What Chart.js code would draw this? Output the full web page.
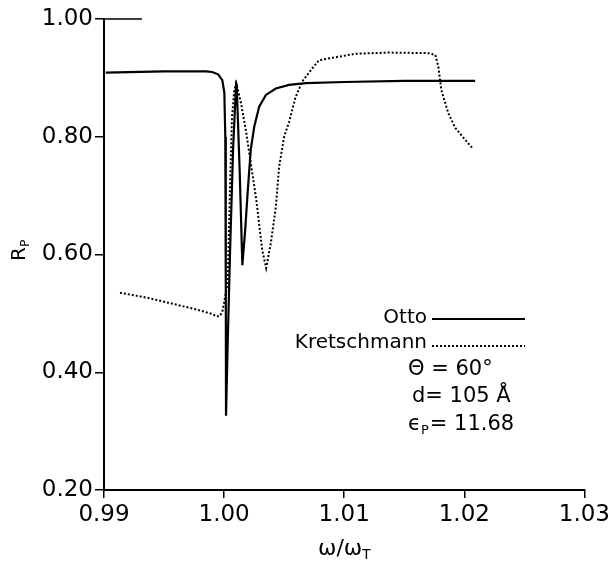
<!DOCTYPE html>
<html>
<head>
<meta charset="utf-8">
<script src="https://cdn.jsdelivr.net/npm/chart.js@4/dist/chart.umd.min.js"></script>
<style>
  html, body { margin: 0; padding: 0; background: #fff; }
  #wrap { width: 613px; height: 565px; }
</style>
</head>
<body>
<div id="wrap"><canvas id="reflChart" width="613" height="565"></canvas></div>
<script>
// omega / omega_T values and reflectivity R_p
var ottoX = [0.99015, 0.9950, 0.9985, 0.9990, 0.9995, 0.99985, 1.00002, 1.00010, 1.00014, 1.00016,
             1.00030, 1.00050, 1.00075, 1.00100, 1.00105, 1.00130, 1.00152, 1.00175, 1.00196, 1.00222,
             1.00251, 1.00292, 1.00348, 1.00431, 1.00541, 1.00680, 1.0100, 1.0150, 1.0209];
var ottoR = [0.909, 0.911, 0.911, 0.910, 0.906, 0.896, 0.875, 0.800, 0.550, 0.326,
             0.450, 0.608, 0.780, 0.890, 0.888, 0.740, 0.582, 0.640, 0.705, 0.778,
             0.817, 0.851, 0.871, 0.882, 0.888, 0.891, 0.893, 0.895, 0.895];

var kretX = [0.99133, 0.9935, 0.9960, 0.9980, 0.9990, 0.99934, 0.99960, 0.99975, 0.99988, 1.00030,
             1.00050, 1.00066, 1.00085, 1.00102, 1.00141, 1.00185, 1.00268, 1.00317, 1.00350, 1.00389,
             1.00431, 1.00458, 1.00500, 1.00541, 1.00596, 1.00651, 1.00734, 1.00790, 1.00955, 1.01096,
             1.01370, 1.01701, 1.01759, 1.01784, 1.01809, 1.01867, 1.01925, 1.02007, 1.02074];
var kretR = [0.535, 0.527, 0.515, 0.505, 0.499, 0.495, 0.495, 0.499, 0.505, 0.552,
             0.720, 0.834, 0.879, 0.891, 0.857, 0.806, 0.693, 0.608, 0.577, 0.619,
             0.681, 0.749, 0.800, 0.825, 0.868, 0.894, 0.916, 0.930, 0.936, 0.941,
             0.943, 0.942, 0.939, 0.919, 0.879, 0.840, 0.815, 0.795, 0.779];

var xTicks = [0.99, 1.00, 1.01, 1.02, 1.03];
var yTicks = [0.20, 0.40, 0.60, 0.80, 1.00];

var seriesNames = ['Otto', 'Kretschmann'];

function pairs(xs, ys) {
  return xs.map(function(x, i) { return { x: x, y: ys[i] }; });
}

var FONT = '"DejaVu Sans", "Liberation Sans", sans-serif';

// draws text made of pieces, some of them as subscripts
function drawPieces(ctx, x, y, pieces, size) {
  pieces.forEach(function(p) {
    var s = p.sub ? size * 0.62 : size;
    ctx.font = s + 'px ' + FONT;
    ctx.fillText(p.t, x, p.sub ? y + size * 0.28 : y);
    x += ctx.measureText(p.t).width + (p.sub ? 1 : 0);
  });
}

var paperPlugin = {
  id: 'paper',
  afterDraw: function(chart) {
    var ctx = chart.ctx, area = chart.chartArea;
    ctx.save();
    ctx.fillStyle = '#000';
    ctx.strokeStyle = '#000';

    // short piece of frame along the top
    ctx.lineWidth = 1.5;
    ctx.beginPath();
    ctx.moveTo(area.left - 1, area.top);
    ctx.lineTo(area.left + 38, area.top);
    ctx.stroke();

    // legend: label, then a sample of the line
    ctx.textBaseline = 'middle';
    chart.data.datasets.forEach(function(ds, i) {
      var y = 319 + i * 25;
      ctx.font = '20px ' + FONT;
      ctx.textAlign = 'right';
      ctx.fillText(ds.label, 427, y - 1);
      ctx.lineWidth = ds.borderWidth;
      ctx.setLineDash(ds.borderDash || []);
      ctx.beginPath();
      ctx.moveTo(432, y + (i ? 2 : 0));
      ctx.lineTo(525, y + (i ? 2 : 0));
      ctx.stroke();
      ctx.setLineDash([]);
    });

    // parameters
    ctx.textAlign = 'left';
    drawPieces(ctx, 408, 370, [{ t: 'Θ = 60°' }], 21);
    drawPieces(ctx, 412, 397, [{ t: 'd= 105 Å' }], 21);
    drawPieces(ctx, 408, 425, [{ t: 'ϵ' }, { t: 'P', sub: true }, { t: '= 11.68' }], 21);

    // x title
    drawPieces(ctx, 318, 549, [{ t: 'ω/ω' }, { t: 'T', sub: true }], 22);

    // y title, rotated
    ctx.translate(20, 250);
    ctx.rotate(-Math.PI / 2);
    drawPieces(ctx, -11, 0, [{ t: 'R' }, { t: 'P', sub: true }], 20);

    ctx.restore();
  }
};

var ctx = document.getElementById('reflChart').getContext('2d');
var reflChart = new Chart(ctx, {
  type: 'line',
  data: {
    datasets: [{
      label: seriesNames[0],
      data: pairs(ottoX, ottoR),
      borderColor: '#000',
      borderWidth: 2.2,
      pointRadius: 0,
      tension: 0
    }, {
      label: seriesNames[1],
      data: pairs(kretX, kretR),
      borderColor: '#000',
      borderWidth: 2,
      borderDash: [2, 2],
      pointRadius: 0,
      tension: 0
    }]
  },
  options: {
    responsive: false,
    animation: false,
    devicePixelRatio: 1,
    layout: { padding: { top: 19, right: 26, left: 0, bottom: 0 } },
    plugins: {
      legend: { display: false },
      tooltip: { enabled: false }
    },
    scales: {
      x: {
        type: 'linear',
        min: 0.99,
        max: 1.03,
        afterBuildTicks: function(scale) {
          scale.ticks = xTicks.map(function(v) { return { value: v }; });
        },
        afterFit: function(scale) { scale.height = 75; },
        ticks: {
          autoSkip: false,
          maxRotation: 0,
          padding: 3,
          color: '#000',
          font: { family: FONT, size: 23 },
          callback: function(v) { return v.toFixed(2); }
        },
        grid: { drawOnChartArea: false, drawTicks: true, tickLength: 8, color: '#000', lineWidth: 1.5 },
        border: { display: true, color: '#000', width: 2 }
      },
      y: {
        type: 'linear',
        min: 0.20,
        max: 1.00,
        afterBuildTicks: function(scale) {
          scale.ticks = yTicks.map(function(v) { return { value: v }; });
        },
        afterFit: function(scale) { scale.width = 104; },
        ticks: {
          autoSkip: false,
          padding: 2,
          color: '#000',
          font: { family: FONT, size: 23 },
          callback: function(v) { return v.toFixed(2); }
        },
        grid: { drawOnChartArea: false, drawTicks: true, tickLength: 9, color: '#000', lineWidth: 1.5 },
        border: { display: true, color: '#000', width: 2 }
      }
    }
  },
  plugins: [paperPlugin]
});
</script>
</body>
</html>
